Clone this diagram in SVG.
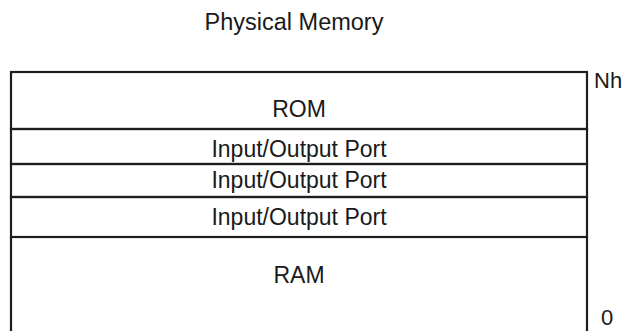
<svg xmlns="http://www.w3.org/2000/svg" width="622" height="331" viewBox="0 0 622 331">
<style>
.box{fill:none;stroke:#1e1e1e;stroke-width:2.2}
.t{font-family:"Liberation Sans",Arial,sans-serif;font-size:23px;fill:#1a1a1a;text-anchor:middle}
.l{font-family:"Liberation Sans",Arial,sans-serif;font-size:22px;fill:#1a1a1a}
</style>
<rect width="622" height="331" fill="#fff"/>
<g id="title"><text class="t" x="294" y="30" style="font-size:23.5px">Physical Memory</text></g>
<g id="rom"><rect class="box" x="11" y="72" width="576" height="57"/><text class="t" x="299" y="117">ROM</text></g>
<g id="io1"><rect class="box" x="11" y="129" width="576" height="35"/><text class="t" x="299" y="157">Input/Output Port</text></g>
<g id="io2"><rect class="box" x="11" y="164" width="576" height="33"/><text class="t" x="299" y="188">Input/Output Port</text></g>
<g id="io3"><rect class="box" x="11" y="197" width="576" height="40"/><text class="t" x="299" y="225">Input/Output Port</text></g>
<g id="ram"><path class="box" d="M11 237V332M587 237V332"/><text class="t" x="299" y="283">RAM</text></g>
<g id="labels"><text class="l" x="594" y="88">Nh</text><text class="l" x="601" y="325">0</text></g>
</svg>
